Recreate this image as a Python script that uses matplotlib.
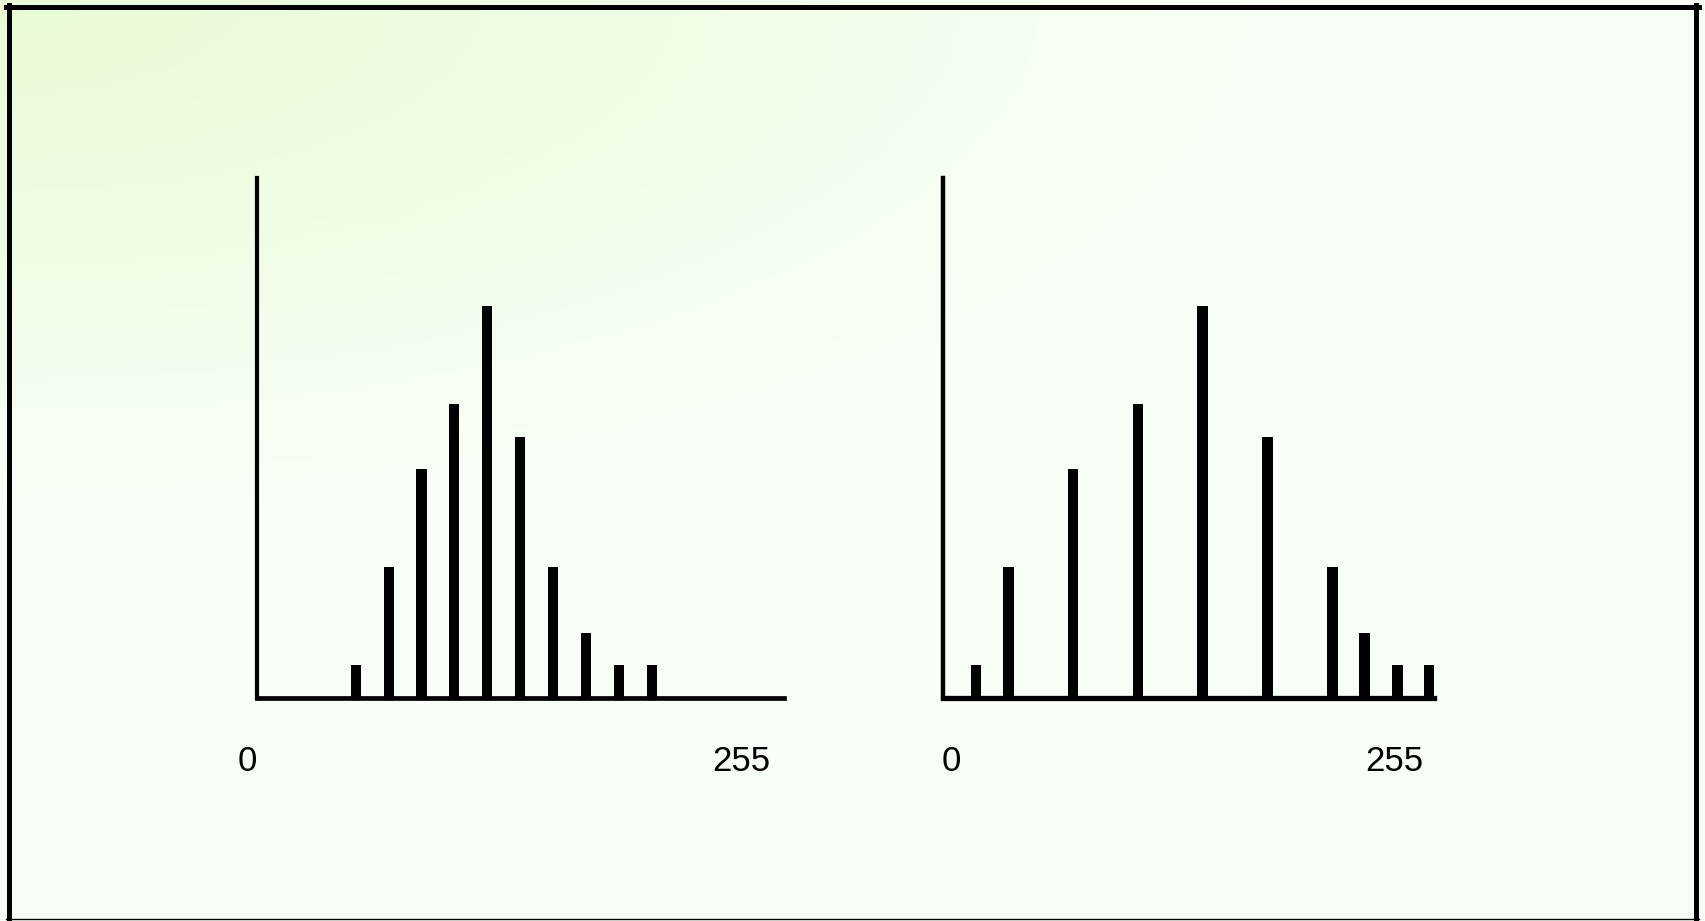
import numpy as np
import matplotlib
matplotlib.use("Agg")
import matplotlib.pyplot as plt
from matplotlib.lines import Line2D

# ---- data ----
# original histogram (grey level positions, counts)
left_levels = [51, 68, 85, 102, 119, 136, 153, 170, 187, 204]
left_counts = [1, 4, 7, 9, 12, 8, 4, 2, 1, 1]
# equalized histogram
right_levels = [17, 34, 68, 102, 136, 170, 204, 221, 238, 255]
right_counts = [1, 4, 7, 9, 12, 8, 4, 2, 1, 1]
tick_labels = ["0", "255"]

W, H = 1706, 921
fig = plt.figure(figsize=(W / 100, H / 100), dpi=100)

# background gradient
bg = fig.add_axes([0, 0, 1, 1], zorder=0)
ny, nx = 200, 400
yy, xx = np.mgrid[0:1:ny * 1j, 0:1:nx * 1j]
t = np.clip(np.sqrt((xx / 0.75) ** 2 + (yy / 0.55) ** 2), 0, 1)
c0 = np.array([232, 251, 214]) / 255.0
c1 = np.array([248, 255, 246]) / 255.0
img = c0[None, None, :] * (1 - t[..., None]) + c1[None, None, :] * t[..., None]
bg.imshow(img, extent=[0, 1, 0, 1], aspect="auto", origin="upper")
bg.set_xlim(0, 1)
bg.set_ylim(0, 1)
bg.axis("off")


def make_axes(x0, x1, ytop, ybase, xmax):
    ax = fig.add_axes([x0 / W, 1 - ybase / H, (x1 - x0) / W, (ybase - ytop) / H], zorder=2)
    ax.patch.set_alpha(0)
    ax.set_xlim(0, xmax)
    ax.set_ylim(0, 15.93)
    for s in ["top", "right"]:
        ax.spines[s].set_visible(False)
    ax.set_xticks([])
    ax.set_yticks([])
    return ax


# left panel
axl = make_axes(257, 784, 177.6, 698, 272.3)
axl.spines["left"].set_linewidth(3.0)
axl.spines["bottom"].set_linewidth(3.4)
axl.bar(left_levels, left_counts, width=5.2, color="black", bottom=0)

# right panel
axr = make_axes(943.5, 1434, 177.6, 698, 257.3)
axr.spines["left"].set_linewidth(3.2)
axr.spines["bottom"].set_linewidth(3.8)
axr.bar(right_levels, right_counts, width=5.6, color="black", bottom=0)

# labels
font = dict(fontsize=25, family=["Liberation Sans", "DejaVu Sans"], ha="center", va="center", color="black")
fig.text(247 / W, 1 - 761 / H, tick_labels[0], **font)
fig.text(741 / W, 1 - 761 / H, tick_labels[1], **font)
fig.text(951 / W, 1 - 761 / H, tick_labels[0], **font)
fig.text(1394 / W, 1 - 761 / H, tick_labels[1], **font)

# frame
lw = 3.6
fig.add_artist(Line2D([8.5 / W, 8.5 / W], [1 - 5 / H, 1 - 919 / H], color="black", lw=lw, transform=fig.transFigure))
fig.add_artist(Line2D([6 / W, 1699 / W], [1 - 7 / H, 1 - 7 / H], color="black", lw=lw, transform=fig.transFigure))
fig.add_artist(Line2D([1696.5 / W, 1696.5 / W], [1 - 5 / H, 1 - 921 / H], color="black", lw=lw, transform=fig.transFigure))
fig.add_artist(Line2D([6 / W, 1699 / W], [1 - 919 / H, 1 - 919 / H], color="black", lw=1.0, transform=fig.transFigure))

fig.savefig("out.png", dpi=100)
